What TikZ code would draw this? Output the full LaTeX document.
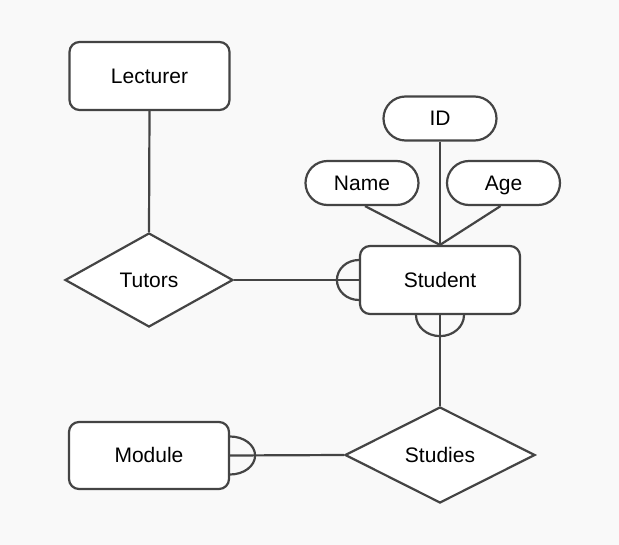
\documentclass[tikz,border=0pt]{standalone}
\usepackage{fontspec}
\setmainfont{Liberation Sans}
\usetikzlibrary{shapes.geometric,shapes.misc}
\definecolor{bg}{HTML}{F9F9F9}
\definecolor{ln}{HTML}{444444}
\begin{document}
\begin{tikzpicture}[x=1pt,y=-1pt,
  every node/.style={font=\fontsize{21}{24}\selectfont, text=black, text height=15pt, text depth=0pt},
  entity/.style={draw=ln, line width=2.2pt, rounded corners=10pt, fill=white, minimum width=160pt, minimum height=68pt, inner sep=0pt},
  attr/.style={draw=ln, line width=2.2pt, rounded rectangle, fill=white, minimum width=113pt, minimum height=44pt, inner sep=0pt},
  rel/.style={draw=ln, line width=2.2pt, diamond, fill=white, minimum width=168pt, minimum height=94pt, inner sep=0pt},
  conn/.style={draw=ln, line width=2.2pt}]
\fill[bg] (0,0) rectangle (619,545);
\useasboundingbox (0,0) rectangle (619,545);
\node[entity] (lecturer) at (149.5,76) {Lecturer};
\node[rel] (tutors) at (149,280) {Tutors};
\node[entity] (student) at (440,280) {Student};
\node[attr] (id) at (440,118.5) {ID};
\node[attr] (name) at (362,183) {Name};
\node[attr] (age) at (503.5,183) {Age};
\node[entity, minimum height=67pt] (module) at (149,455.5) {Module};
\node[rel, minimum width=190pt, minimum height=96pt] (studies) at (440,455) {Studies};
\draw[conn] (lecturer.south) -- (tutors.north);
\draw[conn] (tutors.east) -- (student.west);
\draw[conn] (student.south) -- (studies.north);
\draw[conn] (studies.west) -- (module.east);
\draw[conn] (id.south) -- (student.north);
\draw[conn] ([xshift=3pt]name.south) -- (student.north);
\draw[conn] ([xshift=-3pt]age.south) -- (student.north);
\draw[conn] ([yshift=20pt]student.west) arc[start angle=90, end angle=270, x radius=22pt, y radius=20pt];
\draw[conn] ([xshift=-24pt]student.south) arc[start angle=180, end angle=360, x radius=24pt, y radius=21pt];
\draw[conn] ([yshift=19pt]module.east) arc[start angle=90, end angle=-90, x radius=25pt, y radius=19pt];
\end{tikzpicture}
\end{document}
